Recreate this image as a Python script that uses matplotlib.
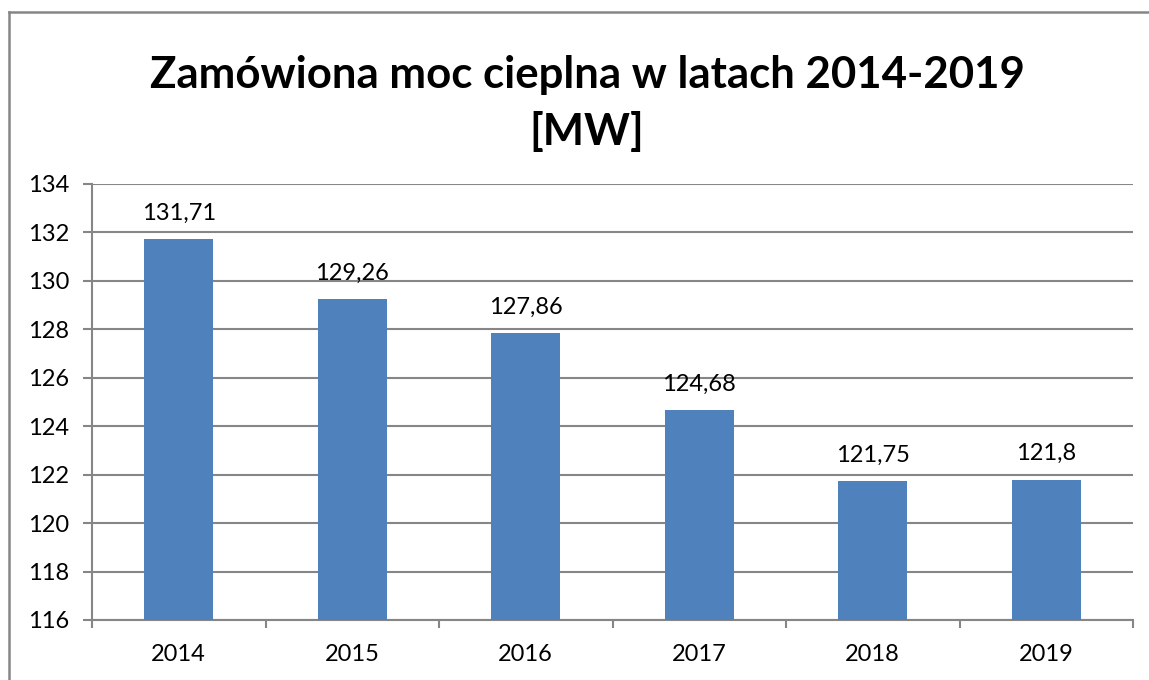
import matplotlib.pyplot as plt
from matplotlib.lines import Line2D

# data
years = ['2014', '2015', '2016', '2017', '2018', '2019']
power_mw = [131.71, 129.26, 127.86, 124.68, 121.75, 121.8]
value_labels = ['131,71', '129,26', '127,86', '124,68', '121,75', '121,8']
y_ticks = [116, 118, 120, 122, 124, 126, 128, 130, 132, 134]

bar_color = '#4F81BD'
grid_color = '#868686'

plt.rcParams['font.family'] = ['Lato', 'DejaVu Sans']

W, H = 1149, 680
fig = plt.figure(figsize=(W / 100, H / 100), dpi=100)
ax = fig.add_axes([92 / W, 1 - 620 / H, (1133 - 92) / W, (620 - 184) / H])

x = list(range(len(years)))
ax.bar(x, [v - 116 for v in power_mw], bottom=116, width=0.4, color=bar_color, zorder=3)

for xi, v, lab in zip(x, power_mw, value_labels):
    ax.annotate(lab, (xi, v), xytext=(0, 11), textcoords='offset points',
                ha='center', va='bottom', fontsize=17, color='#000000')

ax.set_xlim(-0.5, len(years) - 0.5)
ax.set_ylim(116, 134)
ax.set_yticks(y_ticks)
ax.set_yticklabels([str(t) for t in y_ticks], fontsize=17)
ax.grid(axis='y', color=grid_color, linewidth=1.5, zorder=0)

# x ticks sit at category boundaries, labels centred under bars
ax.set_xticks([i - 0.5 for i in range(len(years) + 1)])
ax.set_xticklabels([])
ax.set_xticks(x, minor=True)
ax.set_xticklabels(years, minor=True, fontsize=17)
ax.tick_params(axis='x', which='minor', length=0, pad=17)
ax.tick_params(axis='x', which='major', length=6, width=1.5, color=grid_color)
ax.tick_params(axis='y', length=6.5, width=1.5, color=grid_color, pad=10)

for side in ['top', 'right']:
    ax.spines[side].set_visible(False)
for side in ['left', 'bottom']:
    ax.spines[side].set_color(grid_color)
    ax.spines[side].set_linewidth(1.5)

fig.text(587 / W, 1 - 88 / H, 'Zamówiona moc cieplna w latach 2014-2019',
         ha='center', va='baseline', fontsize=31.5, fontweight='bold')
fig.text(587 / W, 1 - 145 / H, '[MW]', ha='center', va='baseline', fontsize=31.5, fontweight='bold')

# chart frame (left and top edges visible)
fig.add_artist(Line2D([9 / W, 9 / W], [0, 1 - 12 / H], color=grid_color, linewidth=1.8))
fig.add_artist(Line2D([9 / W, 1], [1 - 12 / H, 1 - 12 / H], color=grid_color, linewidth=1.8))

fig.savefig('out.png', dpi=100, facecolor='white')
